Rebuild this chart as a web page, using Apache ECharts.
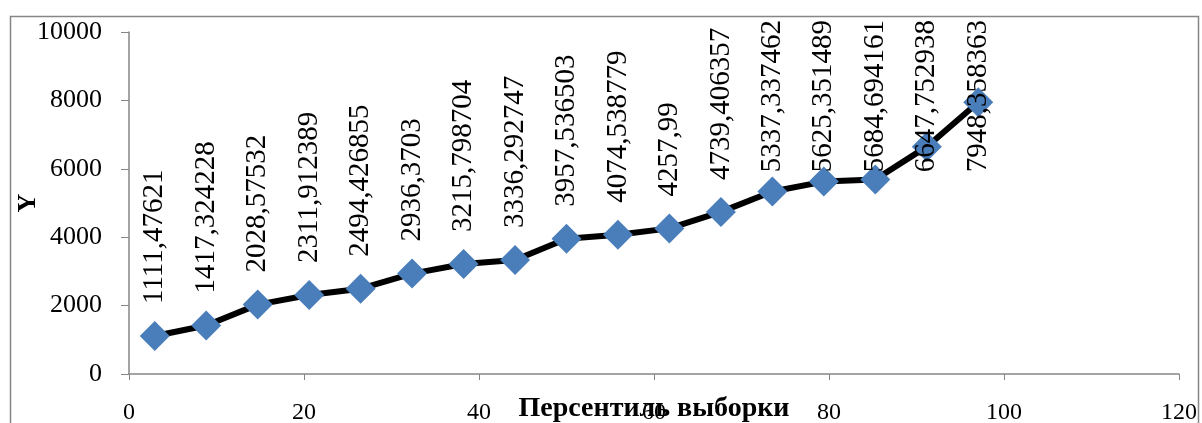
<!DOCTYPE html>
<html>
<head>
<meta charset="utf-8">
<script src="https://cdn.jsdelivr.net/npm/echarts@6/dist/echarts.min.js"></script>
<style>
  html, body { margin: 0; padding: 0; background: #fff; }
  #main { width: 1202px; height: 423px; }
</style>
</head>
<body>
<div id="main"></div>
<script>
// percentiles of the sample
const percentiles = [2.94, 8.82, 14.71, 20.59, 26.47, 32.35, 38.24, 44.12, 50, 55.88, 61.76, 67.65, 73.53, 79.41, 85.29, 91.18, 97.06];
const values = [1111.47621, 1417.324228, 2028.57532, 2311.912389, 2494.426855, 2936.3703, 3215.798704, 3336.292747, 3957.536503, 4074.538779, 4257.99, 4739.406357, 5337.337462, 5625.351489, 5684.694161, 6647.752938, 7948.358363];
// labels as printed (comma decimal separator)
const labels = ["1111,47621", "1417,324228", "2028,57532", "2311,912389", "2494,426855", "2936,3703", "3215,798704", "3336,292747", "3957,536503", "4074,538779", "4257,99", "4739,406357", "5337,337462", "5625,351489", "5684,694161", "6647,752938", "7948,358363"];

const serif = "'Liberation Serif', 'DejaVu Serif', serif";
const axisGray = "#868686";
const labelTop = 20; // labels are pushed down so they stay inside the chart

const chart = echarts.init(document.getElementById("main"));

const option = {
  animation: false,
  grid: { left: 129, right: 23, top: 32, bottom: 49, containLabel: false, outerBoundsMode: "none" },
  graphic: [
    {
      type: "rect",
      left: 8, top: 14,
      shape: { width: 1188, height: 430 },
      style: { fill: "none", stroke: axisGray, lineWidth: 1.5 },
      silent: true,
    },
  ],
  xAxis: {
    type: "value",
    min: 0,
    max: 120,
    interval: 20,
    name: "Персентиль выборки",
    nameLocation: "middle",
    nameGap: 21,
    nameMoveOverlap: false,
    nameTextStyle: { fontFamily: serif, fontSize: 28, fontWeight: "bold", color: "#000" },
    axisLine: { lineStyle: { color: axisGray, width: 1.5 } },
    axisTick: { show: true, length: 6, lineStyle: { color: axisGray } },
    axisLabel: { fontFamily: serif, fontSize: 24, color: "#000", margin: 27 },
    splitLine: { show: false },
  },
  yAxis: {
    type: "value",
    min: 0,
    max: 10000,
    interval: 2000,
    name: "Y",
    nameLocation: "middle",
    nameGap: 88,
    nameRotate: 90,
    nameMoveOverlap: false,
    nameTextStyle: { fontFamily: serif, fontSize: 26, fontWeight: "bold", color: "#000" },
    axisLine: { show: true, lineStyle: { color: axisGray, width: 1.5 } },
    axisTick: { show: true, length: 8, lineStyle: { color: axisGray } },
    axisLabel: { fontFamily: serif, fontSize: 26, color: "#000", margin: 27, formatter: (v) => String(v) },
    splitLine: { show: false },
  },
  series: [
    {
      type: "line",
      data: percentiles.map((p, i) => [p, values[i]]),
      symbol: "diamond",
      symbolSize: 30,
      itemStyle: { color: "#4a7ebb" },
      lineStyle: { color: "#000", width: 6 },
      label: {
        show: true,
        position: "top",
        rotate: 90,
        align: "left",
        verticalAlign: "middle",
        distance: 17,
        fontFamily: serif,
        fontSize: 29,
        color: "#000",
        formatter: (p) => labels[p.dataIndex],
      },
      labelLayout: (params) => {
        const r = params.labelRect;
        if (r.y >= labelTop) return {};
        return { y: r.y + r.height + (labelTop - r.y) };
      },
    },
  ],
};

chart.setOption(option);
</script>
</body>
</html>
